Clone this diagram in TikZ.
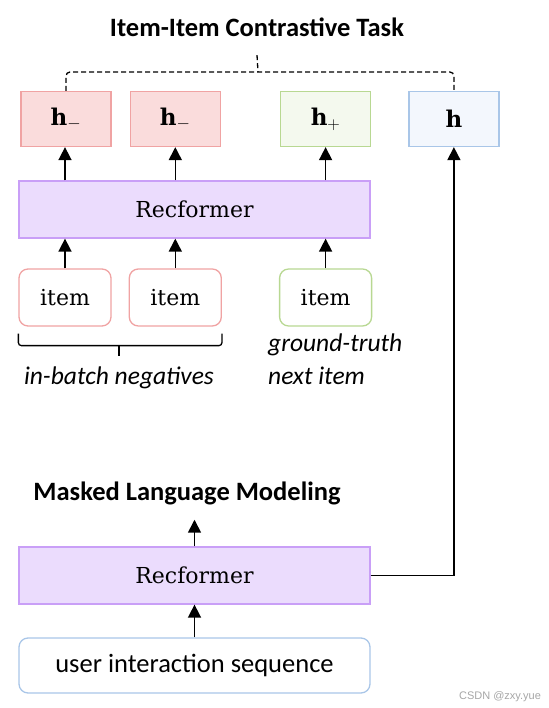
\documentclass[tikz,border=0pt]{standalone}
\usepackage{fontspec}
\newfontfamily\calfont{Carlito}
\newfontfamily\boxfont{DejaVu Serif}
\newfontfamily\wmfont{Liberation Sans}
\usetikzlibrary{positioning,arrows.meta}

\definecolor{negfill}{HTML}{FADCDC}
\definecolor{negline}{HTML}{F0A3A3}
\definecolor{posfill}{HTML}{F4F9EE}
\definecolor{posline}{HTML}{B8D892}
\definecolor{usrfill}{HTML}{F3F7FD}
\definecolor{usrline}{HTML}{A9C6E8}
\definecolor{recfill}{HTML}{EBDCFD}
\definecolor{recline}{HTML}{C99FF7}

\begin{document}
\begin{tikzpicture}[
    x=1pt, y=1pt,
    vec/.style={
        draw,
        line width=1.3pt,
        minimum width=90pt,
        minimum height=55pt,
        font=\boxfont\bfseries\fontsize{23}{28}\selectfont
    },
    hneg/.style={vec, draw=negline, fill=negfill},
    hpos/.style={vec, draw=posline, fill=posfill},
    huser/.style={vec, draw=usrline, fill=usrfill},
    encoder/.style={
        draw=recline,
        fill=recfill,
        line width=1.3pt,
        minimum width=351pt,
        minimum height=57pt,
        font=\boxfont\fontsize{22}{28}\selectfont
    },
    item/.style={
        draw,
        fill=white,
        rounded corners=9pt,
        line width=1.3pt,
        minimum width=92pt,
        minimum height=57pt,
        font=\boxfont\fontsize{22}{28}\selectfont
    },
    task/.style={inner sep=0pt, font=\calfont\bfseries\fontsize{26.5}{30}\selectfont},
    note/.style={inner sep=0pt, font=\calfont\itshape\fontsize{25.5}{30}\selectfont},
    arrow/.style={
        -{Triangle[length=13pt,width=13pt]},
        line width=1.6pt
    }
]
\useasboundingbox (0,0) rectangle (548,708);

% contrastive branch
\node[encoder] (rec1) at (194.5,498.5) {Recformer};

\node[hneg] (hneg1) at (66,589) {h$_{-}$};
\node[hneg, right=18pt of hneg1] (hneg2) {h$_{-}$};
\node[hpos, right=59pt of hneg2] (hpos) {h$_{+}$};
\node[huser, right=37pt of hpos] (huser) {h};

\node[item, draw=negline] (item1) at (65,410.5) {item};
\node[item, draw=negline, right=17pt of item1] (item2) {item};
\node[item, draw=posline, right=57pt of item2] (item3) {item};

\node[note, anchor=base] (negnote) at (119,323) {in-batch negatives};
\node[note, anchor=base west] (gtnote) at (268,356) {ground-truth};
\node[note, anchor=base west] (nextnote) at (268,323) {next item};

\node[task] (title) at (257,680.5) {Item-Item Contrastive Task};

% MLM branch
\node[encoder] (rec2) at (194.5,132.5) {Recformer};
\node[item, draw=usrline, minimum width=351pt, minimum height=55pt, font=\calfont\fontsize{26.5}{30}\selectfont]
    (user) at (194.5,42.5) {user interaction sequence};
\node[task] (mlm) at (187,215) {Masked Language Modeling};

\node[font=\wmfont\fontsize{11}{13}\selectfont, text=black!35] (csdn) at (500,11) {CSDN @zxy.yue};

% arrows
\draw[arrow] (item1) -- (item1 |- rec1.south);
\draw[arrow] (item2) -- (item2 |- rec1.south);
\draw[arrow] (item3) -- (item3 |- rec1.south);
\draw[arrow] (item1 |- rec1.north) -- (item1 |- hneg1.south);
\draw[arrow] (item2 |- rec1.north) -- (item2 |- hneg2.south);
\draw[arrow] (item3 |- rec1.north) -- (item3 |- hpos.south);

\draw[arrow] (user) -- (rec2);
\draw[arrow, shorten >=15pt] (rec2) -- (rec2 |- mlm.south);
\draw[arrow] (rec2.east) -| (huser);

% brace under the negatives
\coordinate (bl) at ([yshift=-7pt]item1.south west);
\coordinate (br) at ([yshift=-7pt]item2.south east);
\draw[line width=1.3pt, rounded corners=3pt] (bl) -- ++(0,-12) -| (br);
\draw[line width=1.3pt] ([yshift=-12pt]bl -| negnote) -- ++(0,-10);

% dashed grouping of the vectors
\coordinate (join) at (258,636);
\draw[dashed, dash pattern=on 5pt off 3pt, line width=1.3pt, rounded corners=4pt]
    (hneg1.north) |- (join) -| (huser.north);
\draw[dashed, dash pattern=on 5pt off 3pt, line width=1.3pt] ([yshift=-18pt]title.south) -- (join);

\end{tikzpicture}
\end{document}
